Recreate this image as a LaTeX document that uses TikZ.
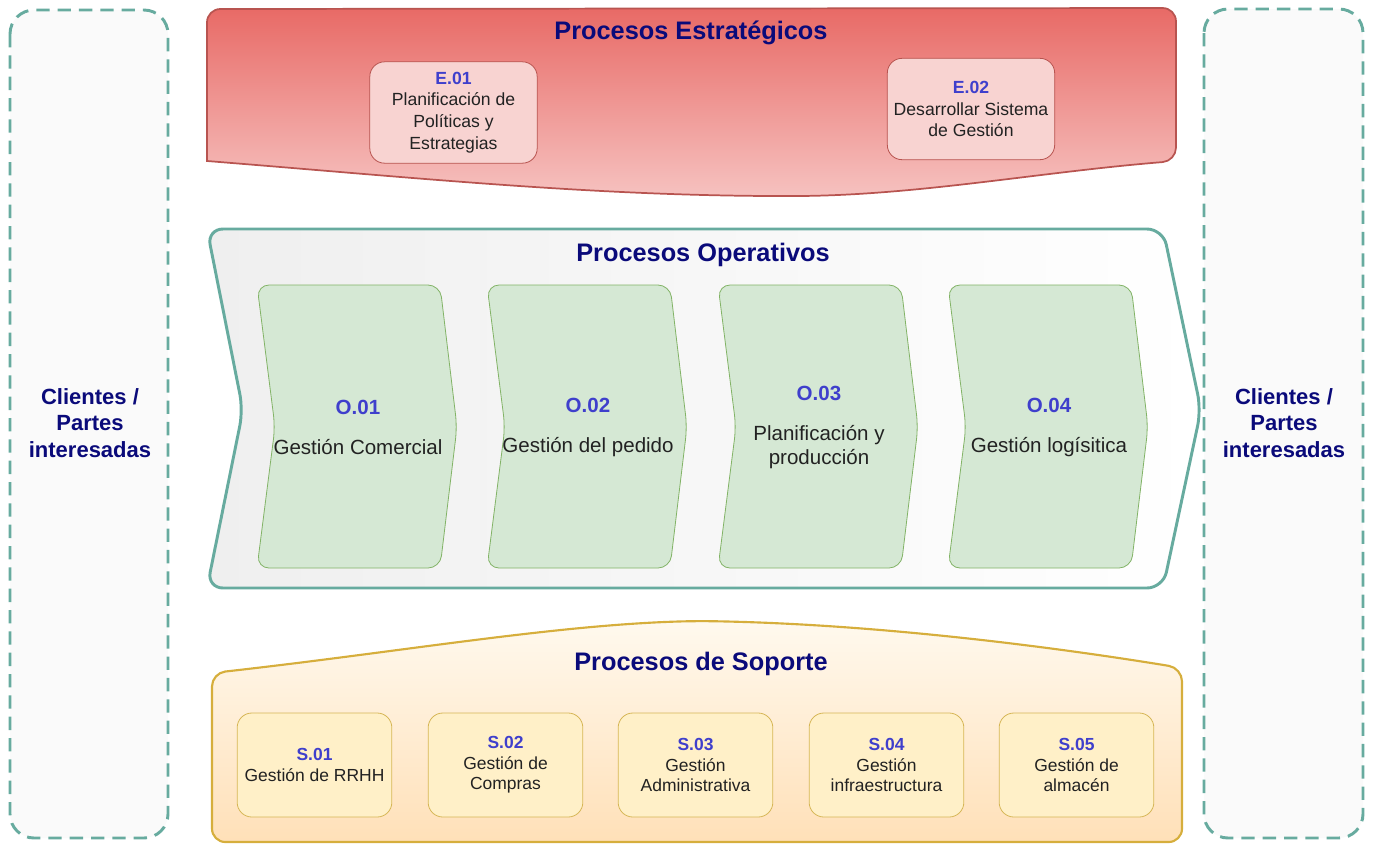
\documentclass[tikz,border=0pt]{standalone}
\usepackage{fontspec}
\setmainfont{Liberation Sans}
\definecolor{tealS}{HTML}{67AB9F}
\definecolor{redS}{HTML}{B85450}
\definecolor{redTop}{HTML}{E86A66}
\definecolor{redBot}{HTML}{F6C2C0}
\definecolor{eFill}{HTML}{F8D3D1}
\definecolor{greenF}{HTML}{D5E8D4}
\definecolor{greenS}{HTML}{82B366}
\definecolor{goldS}{HTML}{D6AE3C}
\definecolor{yelTop}{HTML}{FFF9EE}
\definecolor{yelBot}{HTML}{FFE0B8}
\definecolor{sFill}{HTML}{FFF0C8}
\definecolor{sStroke}{HTML}{D6B656}
\definecolor{navy}{HTML}{0A0A7A}
\definecolor{idblue}{HTML}{3F3FCC}
\definecolor{txt}{HTML}{222222}
\definecolor{opL}{HTML}{EFEFEF}
\begin{document}
\begin{tikzpicture}[x=0.75pt,y=-0.75pt,
  clientbox/.style={draw=tealS, line width=2.2pt, dash pattern=on 10pt off 6pt, rounded corners=18pt, fill=black!2},
  clienttext/.style={font=\fontsize{16.5}{20}\selectfont\bfseries, text=navy, align=center},
  title/.style={font=\fontsize{19}{22}\selectfont\bfseries, text=navy},
  ebox/.style={draw=redS, line width=0.6pt, fill=eFill, rounded corners=11pt, minimum width=125.5pt, align=center, text=txt, font=\fontsize{13.2}{16.3}\selectfont},
  sbox/.style={draw=sStroke, line width=0.6pt, fill=sFill, rounded corners=11pt, minimum width=116pt, minimum height=78pt, align=center, text=txt, font=\fontsize{13.1}{15.5}\selectfont},
  steppath/.style={draw=greenS, line width=0.6pt, fill=greenF, rounded corners=9pt},
  otext/.style={align=center, text=txt, font=\fontsize{15.4}{18}\selectfont}
]
\useasboundingbox (0,0) rectangle (1382,844);

% Clientes side boxes
\draw[clientbox] (10,10) rectangle (168,838);
\draw[clientbox] (1204,9) rectangle (1363,838);
\node[clienttext] (cl) at (90,423) {Clientes /\\Partes\\interesadas};
\node[clienttext] (cr) at (1284,423) {Clientes /\\Partes\\interesadas};

% Strategic
\draw[draw=redS, line width=1.3pt, top color=redTop, bottom color=redBot]
  (1176,161)
  .. controls (1040,172) and (920,195) .. (800,196)
  .. controls (600,197) and (420,178) .. (207,161)
  [rounded corners=10pt] -- (207,9) -- (1176,8) -- cycle;
\node[title] (tE) at (691,33) {Procesos Estratégicos};
\node[ebox, minimum height=76pt] (E1) at (453.5,112.5) {\textbf{\color{idblue}E.01}\\Planificación de\\Políticas y\\Estrategias};
\node[ebox, minimum height=76pt] (E2) at (971,109) {\textbf{\color{idblue}E.02}\\Desarrollar Sistema\\de Gestión};

% Operative
\draw[draw=tealS, line width=2.2pt, left color=opL, right color=white, rounded corners=12pt]
  (207,229) -- (1163,229) -- (1201,410) -- (1163,588) -- (207,588) -- (243,410) -- cycle;
\node[title] (tO) at (703,255) {Procesos Operativos};
\foreach \x/\n/\t in {257/1/{Gestión Comercial}, 487/2/{Gestión del pedido}, 718/3/{Planificación y\\producción}, 948/4/{Gestión logísitica}}{
  \draw[steppath] (\x,285) -- (\x+183,285) -- (\x+200,427) -- (\x+183,568) -- (\x,568) -- (\x+18,427) -- cycle;
  \node[otext] (O\n) at (\x+101,427) {\textbf{\color{idblue}O.0\n}\\[12pt]\t};
}

% Support
\draw[draw=goldS, line width=1.6pt, top color=yelTop, bottom color=yelBot, rounded corners=10pt]
  (212,842) -- (212,673)
  .. controls (400,652) and (560,624) .. (700,621)
  .. controls (880,624) and (1060,648) .. (1182,668)
  -- (1182,842) -- cycle;
\node[title] (tS) at (701,664) {Procesos de Soporte};
\foreach \x/\n/\t in {314.5/1/{Gestión de RRHH}, 505.5/2/{Gestión de\\Compras}, 695.5/3/{Gestión\\Administrativa}, 886.5/4/{Gestión\\infraestructura}, 1076.5/5/{Gestión de\\almacén}}{
  \node[sbox] (S\n) at (\x,765) {\textbf{\color{idblue}S.0\n}\\\t};
}
\end{tikzpicture}
\end{document}
